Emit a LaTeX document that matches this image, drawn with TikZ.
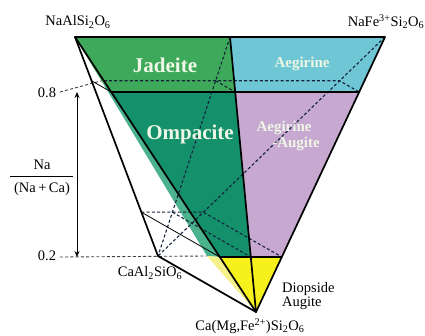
\documentclass[tikz,border=0pt]{standalone}
\usepackage{fontspec}
\setmainfont{Liberation Serif}
\usetikzlibrary{calc,arrows.meta}
\definecolor{jadc}{HTML}{3FA95B}
\definecolor{aegc}{HTML}{6FC7D5}
\definecolor{ompc}{HTML}{14906B}
\definecolor{stripc}{HTML}{4AB28D}
\definecolor{aeaugc}{HTML}{C6A8D0}
\definecolor{yelc}{HTML}{F6F01C}
\definecolor{lyelc}{HTML}{F5F08A}
\definecolor{hidc}{HTML}{15233A}
\definecolor{fieldtxt}{HTML}{EEF7E6}
\begin{document}
\begin{tikzpicture}[x=1pt,y=-1pt,
  edge/.style={line width=1.7pt,line join=round,line cap=round},
  thinedge/.style={line width=0.8pt},
  hid/.style={dash pattern=on 3pt off 2.2pt,line width=1.1pt,draw=hidc},
  guide/.style={dash pattern=on 3pt off 2.2pt,line width=0.9pt,draw=black!75},
  lab/.style={font=\fontsize{14.5}{16}\selectfont,inner sep=0pt},
  bigfield/.style={font=\fontsize{21}{23}\selectfont\bfseries,text=fieldtxt,inner sep=0pt},
  smallfield/.style={font=\fontsize{15}{17}\selectfont\bfseries,text=fieldtxt,inner sep=0pt}]
\useasboundingbox (0,0) rectangle (425,336);
% vertices
\coordinate (A) at (75,37);
\coordinate (B) at (385,37);
\coordinate (C) at (256,312);
\coordinate (D) at (158,256);
\coordinate (M) at (230,37);
\coordinate (E) at (207,256);
% level 0.8 section
\coordinate (a8) at ($(A)!0.2!(C)$);
\coordinate (b8) at ($(B)!0.2!(C)$);
\coordinate (m8) at ($(M)!0.2!(C)$);
\coordinate (d8) at ($(A)!0.2!(D)$);
\coordinate (e8) at ($(B)!0.2!(D)$);
\coordinate (n8) at ($(M)!0.2!(D)$);
\coordinate (s8) at ($(A)!0.2!(E)$);
\coordinate (x8) at ($(A)!0.159!(C)$);
% level 0.2 section
\coordinate (a2) at ($(A)!0.8!(C)$);
\coordinate (b2) at ($(B)!0.8!(C)$);
\coordinate (m2) at ($(M)!0.8!(C)$);
\coordinate (d2) at ($(A)!0.8!(D)$);
\coordinate (e2) at ($(B)!0.8!(D)$);
\coordinate (n2) at ($(M)!0.8!(D)$);
% fields
\fill[stripc] (s8) -- (a8) -- (a2) -- (E) -- cycle;
\fill[lyelc] (E) -- (a2) -- (C) -- cycle;
\fill[jadc] (A) -- (M) -- (m8) -- (a8) -- (s8) -- cycle;
\fill[aegc] (M) -- (B) -- (b8) -- (m8) -- cycle;
\fill[ompc] (a8) -- (m8) -- (m2) -- (a2) -- cycle;
\fill[aeaugc] (m8) -- (b8) -- (b2) -- (m2) -- cycle;
\fill[yelc] (a2) -- (b2) -- (C) -- cycle;
% hidden lines
\draw[hid] (B) -- (D);
\draw[hid] (M) -- (D);
\draw[hid] (x8 |- d8) -- (e8) -- (b8);
\draw[hid] (n8) -- (m8);
\draw[hid] (d2) -- (e2) -- (b2);
\draw[hid] (n2) -- (m2);
% guides
\coordinate (g8) at (60,0 |- a8);
\coordinate (g2) at (60,0 |- a2);
\draw[guide] (g8) -- (s8);
\draw[guide] (g2) -- (E);
\draw[thinedge,{Stealth[length=6pt,width=5pt]}-{Stealth[length=6pt,width=5pt]}] (77,0 |- a8) -- (77,0 |- a2);
% visible edges
\draw[thinedge] (d8) -- (a8);
\draw[thinedge] (d2) -- (a2);
\draw[edge] (A) -- (B) -- (C) -- cycle;
\draw[edge] (A) -- (D) -- (C);
\draw[edge] (M) -- (C);
\draw[edge] (a8) -- (b8);
\draw[edge] (a2) -- (b2);
% field names
\node[bigfield] (jd) at (165,65) {Jadeite};
\node[bigfield] (om) at (190,134) {Ompacite};
\node[smallfield] (ae) at (302,64) {Aegirine};
\node[smallfield] (aa1) at (284,128) {Aegirine};
\node[smallfield] (aa2) at (296,144) {-Augite};
% labels
\node[lab] (lA) at (78,22) {NaAlSi\textsubscript{2}O\textsubscript{6}};
\node[lab] (lB) at (386,22) {NaFe\textsuperscript{3+}Si\textsubscript{2}O\textsubscript{6}};
\node[lab] (lD) at (150,273) {CaAl\textsubscript{2}SiO\textsubscript{6}};
\node[lab] (lC) at (250,326) {Ca(Mg,Fe\textsuperscript{2+})Si\textsubscript{2}O\textsubscript{6}};
\node[lab,anchor=west] (ldi) at (282,289) {Diopside};
\node[lab,anchor=west] (lau) at (282,303) {Augite};
\node[lab] (l8) at (47,93) {0.8};
\node[lab] (l2) at (47,256) {0.2};
\node[lab] (fn) at (42,165) {Na};
\node[lab] (fd) at (42,189) {(Na\hspace{2.5pt}+\hspace{2.5pt}Ca)};
\draw[line width=0.7pt] (10,176) -- (73,176);
\end{tikzpicture}
\end{document}
